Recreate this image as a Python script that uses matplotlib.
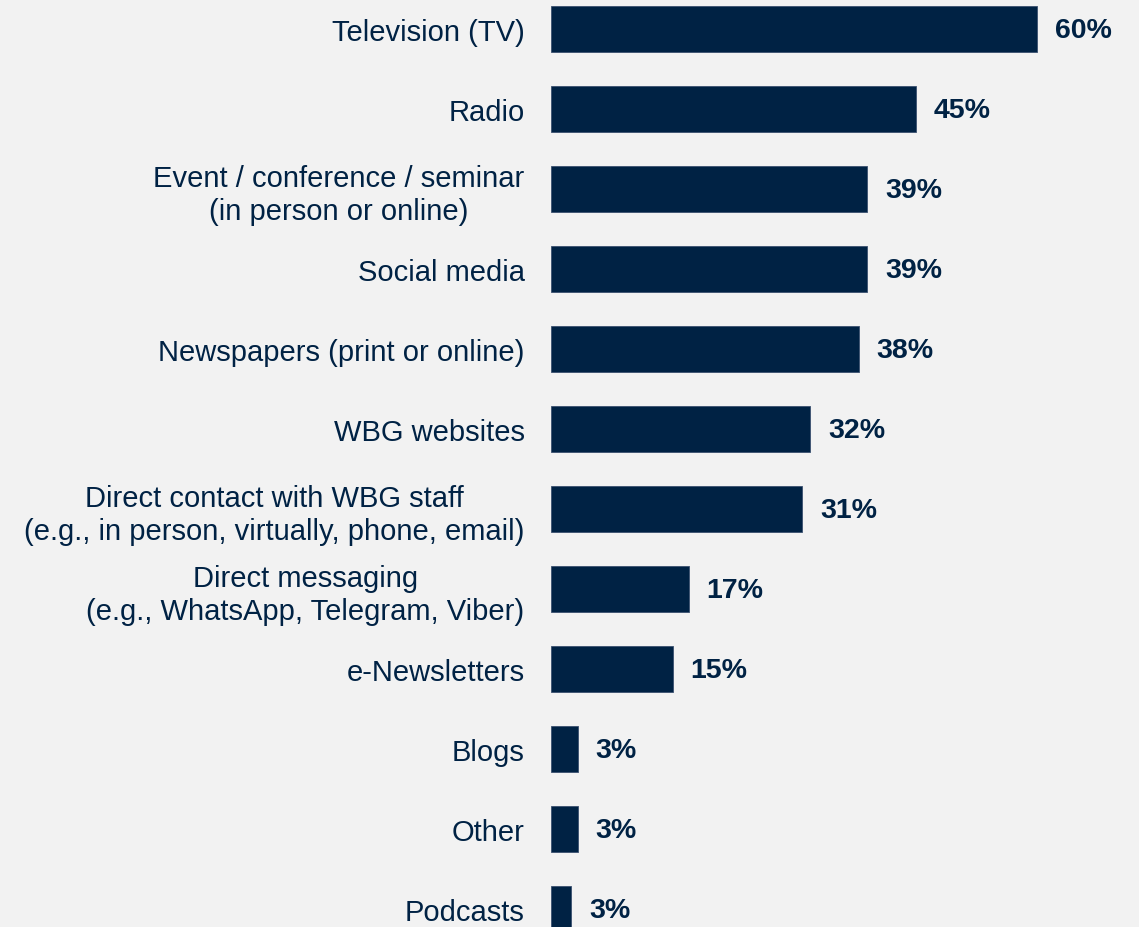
import matplotlib
matplotlib.use("Agg")
import matplotlib.pyplot as plt

categories = [
    "Television (TV)",
    "Radio",
    "Event / conference / seminar\n(in person or online)",
    "Social media",
    "Newspapers (print or online)",
    "WBG websites",
    "Direct contact with WBG staff\n(e.g., in person, virtually, phone, email)",
    "Direct messaging\n(e.g., WhatsApp, Telegram, Viber)",
    "e-Newsletters",
    "Blogs",
    "Other",
    "Podcasts",
]
values = [60, 45, 39, 39, 38, 32, 31, 17, 15, 3.3, 3.3, 2.5]
value_labels = ["60%", "45%", "39%", "39%", "38%", "32%", "31%", "17%", "15%", "3%", "3%", "3%"]

BG = "#F2F2F2"
NAVY = "#002244"

plt.rcParams["font.family"] = ["Liberation Sans", "DejaVu Sans"]

fig = plt.figure(figsize=(11.39, 9.28), dpi=100, facecolor=BG)
ax = fig.add_axes([551 / 1139, 0, 1 - 551 / 1139, 1])
ax.set_facecolor(BG)

y = list(range(len(categories)))
ax.barh(y, values, height=0.575, color=NAVY, edgecolor="#3a5070", linewidth=0.6)

ax.set_xlim(0, 588 / 8.1)
ax.set_ylim(11 + 18 / 80, -30 / 80)

ax.set_yticks(y)
ax.set_yticklabels(categories, fontsize=21, color=NAVY)
for t in ax.get_yticklabels():
    t.set_multialignment("center")
    t.set_linespacing(1.22)
ax.tick_params(axis="y", length=0, pad=19)
ax.set_xticks([])
for s in ax.spines.values():
    s.set_visible(False)

for yi, v, lab in zip(y, values, value_labels):
    ax.annotate(lab, xy=(v, yi), xytext=(18, -1), textcoords="offset pixels",
                ha="left", va="center", fontsize=20.5, fontweight="bold", color=NAVY)

fig.savefig("out.png", dpi=100, facecolor=BG)
